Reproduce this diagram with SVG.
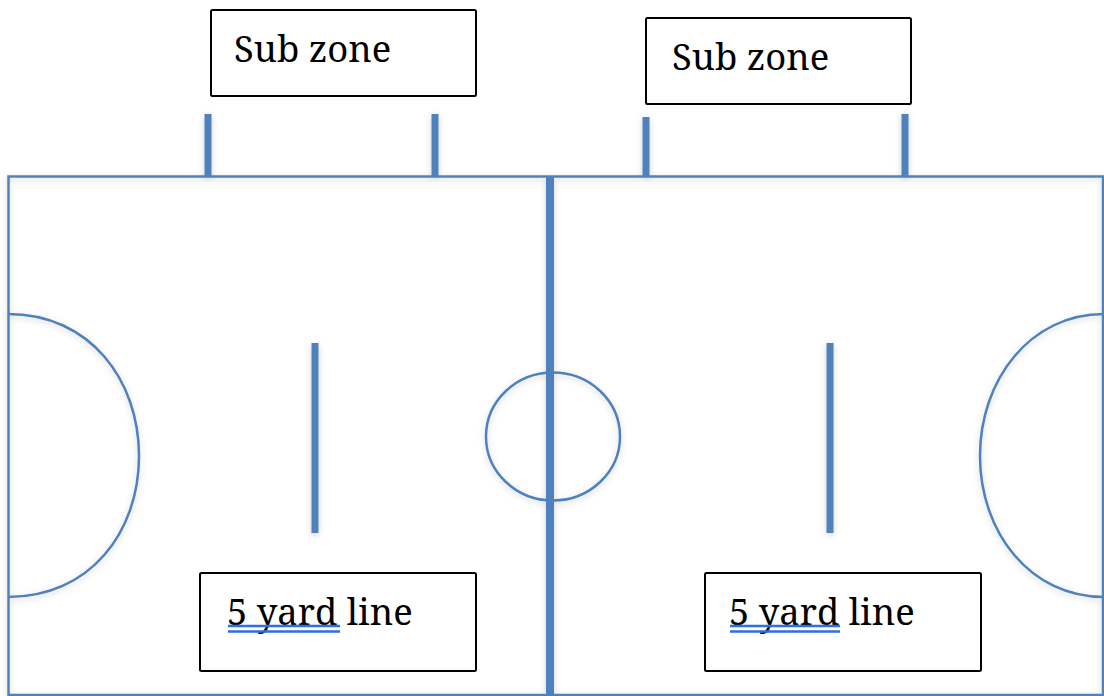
<svg xmlns="http://www.w3.org/2000/svg" width="1104" height="696" viewBox="0 0 1104 696">
<defs>
<filter id="soft" x="-5%" y="-5%" width="110%" height="110%"><feDropShadow dx="0" dy="2" stdDeviation="3" flood-color="#000" flood-opacity="0.18"/></filter>
</defs>
<style>
.f{fill:none;stroke:#4f81bd;stroke-width:2.5}
.t{fill:none;stroke:#4f81bd;stroke-width:7}
.b{fill:#fff;stroke:#000;stroke-width:2}
text{font-family:"Noto Serif","Liberation Serif","DejaVu Serif",serif;font-size:36.400px;fill:#000}
.u{fill:none;stroke:#2f6fe0;stroke-width:2.500}
</style>
<rect width="1104" height="696" fill="#fff"/>
<g id="connectors" filter="url(#soft)">
<rect class="f" x="8.500" y="176.500" width="1094.500" height="518.500"/>
<path class="f" d="M8 314C90 314 139 380 139 456C139 532 90 597 8 597"/>
<path class="f" d="M1104 314C1030 314 980 380 980 456C980 532 1030 597 1104 597"/>
<ellipse class="f" cx="553" cy="436.500" rx="67" ry="64"/>
<path class="t" d="M550 176V696" style="stroke-width:8"/>
<path class="t" d="M208 114V177M435 114V177M646 117V177M905 114V177"/>
<path class="t" d="M315 343V533M830 343V533"/>
</g>
<g id="sub-zone-left"><rect class="b" x="211" y="10" width="265" height="86" rx="1.500"/><text x="234" y="62">Sub zone</text></g>
<g id="sub-zone-right"><rect class="b" x="646" y="18" width="265" height="86" rx="1.500"/><text x="672" y="70">Sub zone</text></g>
<g id="five-yard-left"><rect class="b" x="200" y="573" width="276" height="98" rx="1.500"/><text x="227" y="625">5 yard line</text><path class="u" d="M228 626H340M228 631.500H340"/></g>
<g id="five-yard-right"><rect class="b" x="705" y="573" width="276" height="98" rx="1.500"/><text x="729" y="625">5 yard line</text><path class="u" d="M730 626H840M730 631.500H840"/></g>
</svg>
